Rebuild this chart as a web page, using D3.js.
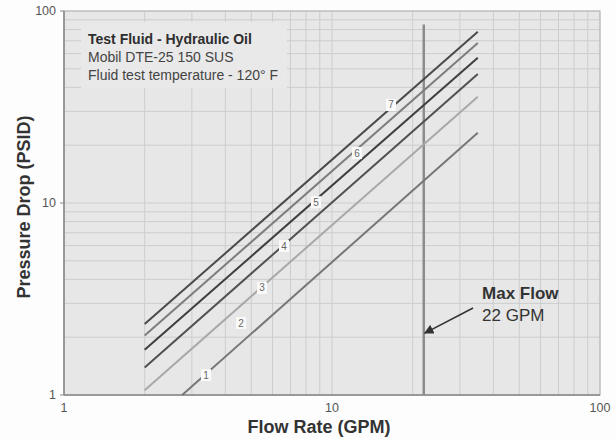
<!DOCTYPE html>
<html lang="en">
<head>
    <meta charset="UTF-8">
    <title>Pressure Drop vs Flow Rate</title>
    <script src="https://d3js.org/d3.v7.min.js"></script>
    <style>
        body {
            margin: 0;
            background-color: #fdfdfd;
            font-family: "Liberation Sans", Arial, sans-serif;
        }
        .grid line {
            stroke: #cdcdcd;
            stroke-width: 1;
        }
        .tick-label {
            font-size: 12.5px;
            fill: #555;
        }
        .axis-label {
            font-size: 18px;
            font-weight: bold;
            fill: #333;
        }
        .note {
            font-size: 14px;
            fill: #3a3a3a;
        }
    </style>
</head>
<body>
    <svg id="chart" width="616" height="439"></svg>

    <script>
        // curves, flow in GPM, pressure drop in PSID
        const curveIds = [7, 6, 5, 4, 3, 1];
        const flowStart = [2, 2, 2, 2, 2, 2.76];
        const flowEnd = [35, 35, 35, 35, 35, 35];
        const dropStart = [2.34, 2.04, 1.72, 1.39, 1.06, 1.0];
        const dropEnd = [78.0, 68.1, 57.1, 47.0, 35.8, 23.2];

        // numbered tags on the curves
        const tagText = ["7", "6", "5", "4", "3", "2", "1"];
        const tagFlow = [16.6, 12.4, 8.71, 6.62, 5.48, 4.58, 3.39];
        const tagDrop = [32.4, 18.2, 10.1, 5.97, 3.61, 2.37, 1.27];

        const maxFlow = 22;
        const maxFlowTop = 85;

        const xTicks = [1, 10, 100];
        const yTicks = [1, 10, 100];

        const noteLines = ["Test Fluid - Hydraulic Oil", "Mobil DTE-25 150 SUS", "Fluid test temperature - 120\u00b0 F"];

        const curveColor = { 7: "#4a4a4a", 6: "#7d7d7d", 5: "#3e3e3e", 4: "#505050", 3: "#a8a8a8", 1: "#777" };

        const margin = { top: 11, right: 16, bottom: 44, left: 64 };
        const width = 616 - margin.left - margin.right;
        const height = 439 - margin.top - margin.bottom;

        const svg = d3.select("#chart")
          .append("g")
            .attr("transform", `translate(${margin.left}, ${margin.top})`);

        const x = d3.scaleLog().domain([1, 100]).range([0, width]);
        const y = d3.scaleLog().domain([1, 100]).range([height, 0]);

        svg.append("rect")
            .attr("width", width)
            .attr("height", height)
            .attr("fill", "#e7e7e7");

        // log grid
        svg.append("g")
            .attr("class", "grid")
            .selectAll("line")
            .data(x.ticks())
            .enter().append("line")
            .attr("x1", d => x(d)).attr("x2", d => x(d))
            .attr("y1", 0).attr("y2", height);

        svg.append("g")
            .attr("class", "grid")
            .selectAll("line")
            .data(y.ticks())
            .enter().append("line")
            .attr("x1", 0).attr("x2", width)
            .attr("y1", d => y(d)).attr("y2", d => y(d));

        // box behind the fluid note
        svg.append("rect")
            .attr("x", 17).attr("y", 11)
            .attr("width", 206).attr("height", 66)
            .attr("fill", "#e9e9e9");

        svg.selectAll(".note")
            .data(noteLines)
            .enter().append("text")
            .attr("class", "note")
            .attr("x", 24)
            .attr("y", (d, i) => 33 + i * 18)
            .style("font-weight", (d, i) => i === 0 ? "bold" : "normal")
            .style("fill", (d, i) => i === 0 ? "#2e2e2e" : "#444")
            .text(d => d);

        // frame
        svg.append("rect")
            .attr("width", width)
            .attr("height", height)
            .attr("fill", "none")
            .attr("stroke", "#b5b5b5");

        svg.append("line")
            .attr("x1", 0).attr("x2", 0).attr("y1", 0).attr("y2", height)
            .attr("stroke", "#888").attr("stroke-width", 1.5);
        svg.append("line")
            .attr("x1", 0).attr("x2", width).attr("y1", height).attr("y2", height)
            .attr("stroke", "#888").attr("stroke-width", 1.5);

        // max flow marker
        svg.append("line")
            .attr("x1", x(maxFlow)).attr("x2", x(maxFlow))
            .attr("y1", y(maxFlowTop)).attr("y2", height)
            .attr("stroke", "#8c8c8c")
            .attr("stroke-width", 2.5);

        // curves
        const curves = curveIds.map((id, i) => ({
            id: id,
            pts: [[flowStart[i], dropStart[i]], [flowEnd[i], dropEnd[i]]]
        }));

        const line = d3.line().x(d => x(d[0])).y(d => y(d[1]));

        svg.selectAll(".curve")
            .data(curves)
            .enter().append("path")
            .attr("class", "curve")
            .attr("d", d => line(d.pts))
            .attr("fill", "none")
            .attr("stroke", d => curveColor[d.id])
            .attr("stroke-width", 2);

        // tags
        const tags = svg.selectAll(".tag")
            .data(tagText)
            .enter().append("g")
            .attr("class", "tag")
            .attr("transform", (d, i) => `translate(${x(tagFlow[i])}, ${y(tagDrop[i])})`);

        tags.append("rect")
            .attr("x", -5).attr("y", -6)
            .attr("width", 10).attr("height", 12)
            .attr("fill", "#fafafa");

        tags.append("text")
            .attr("text-anchor", "middle")
            .attr("dy", "0.35em")
            .style("font-size", "10px")
            .style("fill", "#666")
            .text(d => d);

        // arrow and max flow text
        svg.append("defs").append("marker")
            .attr("id", "head")
            .attr("viewBox", "0 0 10 10")
            .attr("refX", 9).attr("refY", 5)
            .attr("markerWidth", 6).attr("markerHeight", 6)
            .attr("orient", "auto")
          .append("path")
            .attr("d", "M0,0 L10,5 L0,10 Z")
            .attr("fill", "#333");

        svg.append("line")
            .attr("x1", x(33.6)).attr("y1", y(2.84))
            .attr("x2", x(maxFlow) + 1).attr("y2", y(2.1))
            .attr("stroke", "#333")
            .attr("stroke-width", 1.6)
            .attr("marker-end", "url(#head)");

        svg.append("text")
            .attr("x", x(36.3)).attr("y", y(3.16))
            .style("font-size", "17px").style("font-weight", "bold").style("fill", "#333")
            .text("Max Flow");

        svg.append("text")
            .attr("x", x(36.3)).attr("y", y(3.16) + 22)
            .style("font-size", "17px").style("fill", "#333")
            .text(maxFlow + " GPM");

        // tick labels
        svg.selectAll(".xt")
            .data(xTicks)
            .enter().append("text")
            .attr("class", "tick-label")
            .attr("x", d => x(d))
            .attr("y", height + 17)
            .attr("text-anchor", "middle")
            .text(d => d);

        svg.selectAll(".yt")
            .data(yTicks)
            .enter().append("text")
            .attr("class", "tick-label")
            .attr("x", -8)
            .attr("y", d => y(d))
            .attr("dy", "0.35em")
            .attr("text-anchor", "end")
            .text(d => d);

        svg.selectAll(".ytick")
            .data(yTicks)
            .enter().append("line")
            .attr("x1", -4).attr("x2", 0)
            .attr("y1", d => y(d)).attr("y2", d => y(d))
            .attr("stroke", "#888");

        // axis titles
        svg.append("text")
            .attr("class", "axis-label")
            .attr("x", width / 2 - 13)
            .attr("y", height + 38)
            .attr("text-anchor", "middle")
            .text("Flow Rate (GPM)");

        svg.append("text")
            .attr("class", "axis-label")
            .attr("transform", "rotate(-90)")
            .attr("x", -(207 - margin.top))
            .attr("y", -34)
            .attr("text-anchor", "middle")
            .text("Pressure Drop (PSID)");
    </script>
</body>
</html>
